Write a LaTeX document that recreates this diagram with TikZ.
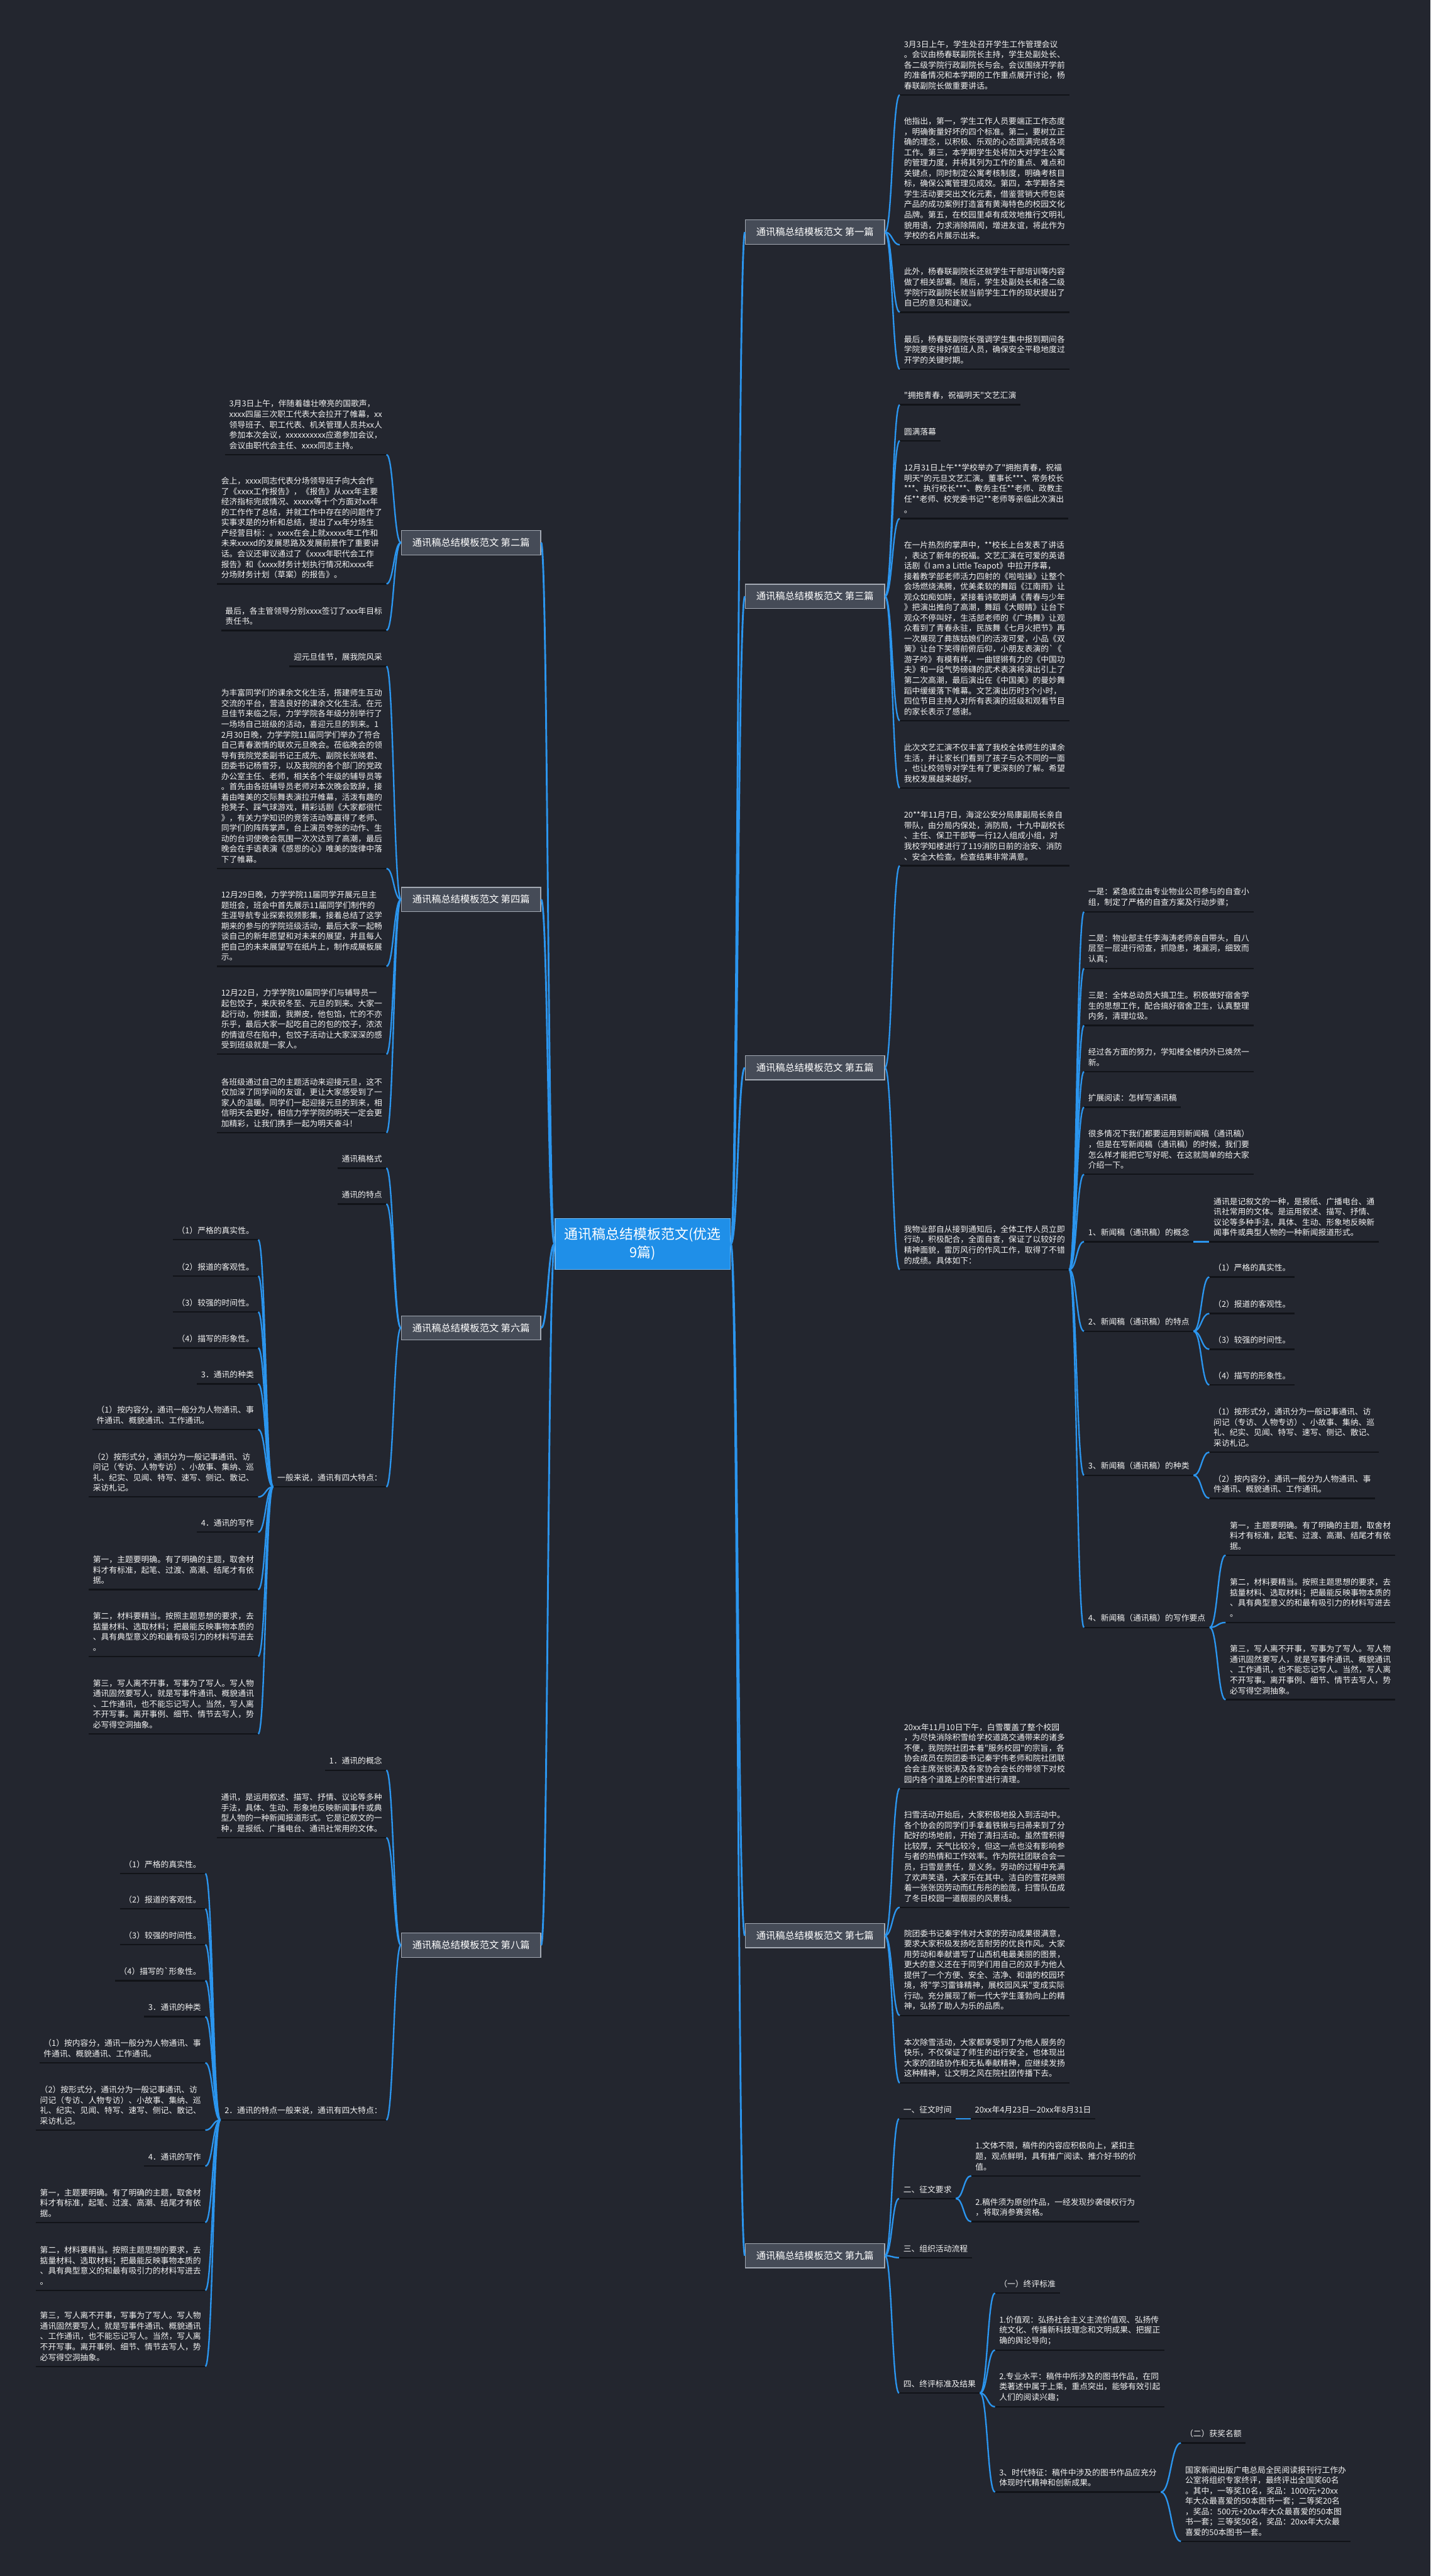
\documentclass[tikz,border=0pt]{standalone}
\usepackage{fontspec}
\newfontfamily\cjk{Noto Sans CJK SC}
\usetikzlibrary{calc}
\definecolor{bgc}{HTML}{23262F}
\definecolor{linkc}{HTML}{2B95EE}
\definecolor{ulc}{HTML}{111318}
\definecolor{txtc}{HTML}{F2F2F2}
\definecolor{bfill}{HTML}{454B57}
\definecolor{bborder}{HTML}{A3A9B3}
\definecolor{cfill}{HTML}{1F8FE8}
\definecolor{cborder}{HTML}{6DB8F3}
\tikzset{
  txt/.style={font=\cjk\fontsize{4.9}{6.33}\selectfont, text=txtc, inner xsep=2.4pt, inner ysep=3.1pt, align=left},
  uline/.style={append after command={(\tikzlastnode.south west) edge[draw=ulc, line width=0.9pt] (\tikzlastnode.south east)}},
  rl/.style={txt, uline, anchor=south west},
  ll/.style={txt, uline, anchor=south east},
  branch/.style={fill=bfill, draw=bborder, line width=0.5pt, text=white, font=\cjk\fontsize{5.85}{7}\selectfont, minimum width=84.8pt, minimum height=14.8pt, inner sep=0pt},
  centre/.style={fill=cfill, draw=cborder, line width=0.6pt, text=white, font=\cjk\fontsize{8.4}{11}\selectfont, align=center, minimum width=106.6pt, minimum height=31pt, inner sep=0pt},
  link/.style={draw=linkc, line width=0.9pt, to path={let \p1=(\tikztostart), \p2=(\tikztotarget), \n1={(\x2-\x1)/2}, \n2={(\x1-\x2)/2} in .. controls +(\n1,0) and +(\n2,0) .. (\tikztotarget)}},
  clink/.style={link, line width=1.1pt}
}
\begin{document}
\begin{tikzpicture}[x=1pt,y=-1pt]
\useasboundingbox (0,0) rectangle (871,1568);
\fill[bgc] (0,0) rectangle (871,1568);

% centre and branches
\node[centre] (c) at (391.3,757.2) {通讯稿总结模板范文(优选\\9篇)};
\node[branch] (b1) at (496.2,141.3) {通讯稿总结模板范文 第一篇};
\node[branch] (b3) at (496.2,363) {通讯稿总结模板范文 第三篇};
\node[branch] (b5) at (496.2,649.9) {通讯稿总结模板范文 第五篇};
\node[branch] (b7) at (496.2,1178.2) {通讯稿总结模板范文 第七篇};
\node[branch] (b9) at (496.2,1373) {通讯稿总结模板范文 第九篇};
\node[branch] (b2) at (286.8,330.3) {通讯稿总结模板范文 第二篇};
\node[branch] (b4) at (286.8,547.5) {通讯稿总结模板范文 第四篇};
\node[branch] (b6) at (286.8,808.3) {通讯稿总结模板范文 第六篇};
\node[branch] (b8) at (286.8,1184) {通讯稿总结模板范文 第八篇};

% ---------- 第一篇 ----------
\node[rl] (a1) at (547.8,57.8) {3月3日上午，学生处召开学生工作管理会议\\。会议由杨春联副院长主持，学生处副处长、\\各二级学院行政副院长与会。会议围绕开学前\\的准备情况和本学期的工作重点展开讨论，杨\\春联副院长做重要讲话。};
\node[rl] (a2) at (547.8,149) {他指出，第一，学生工作人员要端正工作态度\\，明确衡量好坏的四个标准。第二，要树立正\\确的理念，以积极、乐观的心态圆满完成各项\\工作。第三，本学期学生处将加大对学生公寓\\的管理力度，并将其列为工作的重点、难点和\\关键点，同时制定公寓考核制度，明确考核目\\标，确保公寓管理见成效。第四，本学期各类\\学生活动要突出文化元素，借鉴营销大师包装\\产品的成功案例打造富有黄海特色的校园文化\\品牌。第五，在校园里卓有成效地推行文明礼\\貌用语，力求消除隔阂，增进友谊，将此作为\\学校的名片展示出来。};
\node[rl] (a3) at (547.8,190) {此外，杨春联副院长还就学生干部培训等内容\\做了相关部署。随后，学生处副处长和各二级\\学院行政副院长就当前学生工作的现状提出了\\自己的意见和建议。};
\node[rl] (a4) at (547.8,224.7) {最后，杨春联副院长强调学生集中报到期间各\\学院要安排好值班人员，确保安全平稳地度过\\开学的关键时期。};

% ---------- 第三篇 ----------
\node[rl] (d1) at (547.8,246.4) {"拥抱青春，祝福明天"文艺汇演};
\node[rl] (d2) at (547.8,268.3) {圆满落幕};
\node[rl] (d3) at (547.8,315.6) {12月31日上午**学校举办了"拥抱青春，祝福\\明天"的元旦文艺汇演。董事长***、常务校长\\***、执行校长***、教务主任**老师、政教主\\任**老师、校党委书记**老师等亲临此次演出\\。};
\node[rl] (d4) at (547.8,438.6) {在一片热烈的掌声中，**校长上台发表了讲话\\，表达了新年的祝福。文艺汇演在可爱的英语\\话剧《I am a Little Teapot》中拉开序幕，\\接着教学部老师活力四射的《啦啦操》让整个\\会场燃烧沸腾，优美柔软的舞蹈《江南雨》让\\观众如痴如醉，紧接着诗歌朗诵《青春与少年\\》把演出推向了高潮，舞蹈《大眼睛》让台下\\观众不停叫好，生活部老师的《广场舞》让观\\众看到了青春永驻，民族舞《七月火把节》再\\一次展现了彝族姑娘们的活泼可爱，小品《双\\簧》让台下笑得前俯后仰，小朋友表演的`《\\游子吟》有模有样，一曲铿锵有力的《中国功\\夫》和一段气势磅礴的武术表演将演出引上了\\第二次高潮，最后演出在《中国美》的曼妙舞\\蹈中缓缓落下帷幕。文艺演出历时3个小时，\\四位节目主持人对所有表演的班级和观看节目\\的家长表示了感谢。};
\node[rl] (d5) at (547.8,479.6) {此次文艺汇演不仅丰富了我校全体师生的课余\\生活，并让家长们看到了孩子与众不同的一面\\，也让校领导对学生有了更深刻的了解。希望\\我校发展越来越好。};

% ---------- 第五篇 ----------
\node[rl] (e1) at (547.8,527) {20**年11月7日，海淀公安分局康副局长亲自\\带队，由分局内保处，消防局，十九中副校长\\、主任、保卫干部等一行12人组成小组，对\\我校学知楼进行了119消防日前的治安、消防\\、安全大检查。检查结果非常满意。};
\node[rl] (e2) at (547.8,772.8) {我物业部自从接到通知后，全体工作人员立即\\行动，积极配合，全面自查，保证了以较好的\\精神面貌，雷厉风行的作风工作，取得了不错\\的成绩。具体如下：};
\node[rl] (s1) at (660,555) {一是：紧急成立由专业物业公司参与的自查小\\组，制定了严格的自查方案及行动步骤；};
\node[rl] (s2) at (660,589.5) {二是：物业部主任李海涛老师亲自带头，自八\\层至一层进行彻查，抓隐患，堵漏洞，细致而\\认真；};
\node[rl] (s3) at (660,624.2) {三是：全体总动员大搞卫生。积极做好宿舍学\\生的思想工作，配合搞好宿舍卫生，认真整理\\内务，清理垃圾。};
\node[rl] (s4) at (660,652.3) {经过各方面的努力，学知楼全楼内外已焕然一\\新。};
\node[rl] (s5) at (660,674) {扩展阅读：怎样写通讯稿};
\node[rl] (s6) at (660,714.8) {很多情况下我们都要运用到新闻稿（通讯稿）\\，但是在写新闻稿（通讯稿）的时候，我们要\\怎么样才能把它写好呢、在这就简单的给大家\\介绍一下。};
\node[rl] (s7) at (660,755.8) {1、新闻稿（通讯稿）的概念};
\node[rl] (s8) at (660,810.3) {2、新闻稿（通讯稿）的特点};
\node[rl] (s9) at (660,898) {3、新闻稿（通讯稿）的种类};
\node[rl] (s10) at (660,990.6) {4、新闻稿（通讯稿）的写作要点};
\node[rl] (c1) at (736.3,755.8) {通讯是记叙文的一种，是报纸、广播电台、通\\讯社常用的文体。是运用叙述、描写、抒情、\\议论等多种手法，具体、生动、形象地反映新\\闻事件或典型人物的一种新闻报道形式。};
\node[rl] (f1) at (736.3,777.3) {（1）严格的真实性。};
\node[rl] (f2) at (736.3,799.5) {（2）报道的客观性。};
\node[rl] (f3) at (736.3,821.3) {（3）较强的时间性。};
\node[rl] (f4) at (736.3,843) {（4）描写的形象性。};
\node[rl] (g1) at (736.3,883.9) {（1）按形式分，通讯分为一般记事通讯、访\\问记（专访、人物专访）、小故事、集纳、巡\\礼、纪实、见闻、特写、速写、侧记、散记、\\采访札记。};
\node[rl] (g2) at (736.3,912) {（2）按内容分，通讯一般分为人物通讯、事\\件通讯、概貌通讯、工作通讯。};
\node[rl] (h1) at (746.2,946.6) {第一，主题要明确。有了明确的主题，取舍材\\料才有标准，起笔、过渡、高潮、结尾才有依\\据。};
\node[rl] (h2) at (746.2,987.6) {第二，材料要精当。按照主题思想的要求，去\\掂量材料、选取材料；把最能反映事物本质的\\、具有典型意义的和最有吸引力的材料写进去\\。};
\node[rl] (h3) at (746.2,1034.6) {第三，写人离不开事，写事为了写人。写人物\\通讯固然要写人，就是写事件通讯、概貌通讯\\、工作通讯，也不能忘记写人。当然，写人离\\不开写事。离开事例、细节、情节去写人，势\\必写得空洞抽象。};

% ---------- 第七篇 ----------
\node[rl] (p1) at (547.8,1088.6) {20xx年11月10日下午，白雪覆盖了整个校园\\，为尽快消除积雪给学校道路交通带来的诸多\\不便，我院院社团本着"服务校园"的宗旨，各\\协会成员在院团委书记秦宇伟老师和院社团联\\合会主席张锐涛及各家协会会长的带领下对校\\园内各个道路上的积雪进行清理。};
\node[rl] (p2) at (547.8,1161) {扫雪活动开始后，大家积极地投入到活动中。\\各个协会的同学们手拿着铁锹与扫帚来到了分\\配好的场地前，开始了清扫活动。虽然雪积得\\比较厚，天气比较冷，但这一点也没有影响参\\与者的热情和工作效率。作为院社团联合会一\\员，扫雪是责任，是义务。劳动的过程中充满\\了欢声笑语，大家乐在其中。洁白的雪花映照\\着一张张因劳动而红彤彤的脸庞，扫雪队伍成\\了冬日校园一道靓丽的风景线。};
\node[rl] (p3) at (547.8,1226.8) {院团委书记秦宇伟对大家的劳动成果很满意，\\要求大家积极发扬吃苦耐劳的优良作风。大家\\用劳动和奉献谱写了山西机电最美丽的图景，\\更大的意义还在于同学们用自己的双手为他人\\提供了一个方便、安全、洁净、和谐的校园环\\境，将"学习雷锋精神，展校园风采"变成实际\\行动。充分展现了新一代大学生蓬勃向上的精\\神，弘扬了助人为乐的品质。};
\node[rl] (p4) at (547.8,1267.8) {本次除雪活动，大家都享受到了为他人服务的\\快乐，不仅保证了师生的出行安全，也体现出\\大家的团结协作和无私奉献精神，应继续发扬\\这种精神，让文明之风在院社团传播下去。};

% ---------- 第九篇 ----------
\node[rl] (n1) at (547.4,1289.7) {一、征文时间};
\node[rl] (n2) at (547.4,1338.2) {二、征文要求};
\node[rl] (n3) at (547.4,1374.2) {三、组织活动流程};
\node[rl] (n4) at (547.4,1456.6) {四、终评标准及结果};
\node[rl] (n1a) at (591,1289.7) {20xx年4月23日—20xx年8月31日};
\node[rl] (n2a) at (591.3,1324.4) {1.文体不限，稿件的内容应积极向上，紧扣主\\题，观点鲜明，具有推广阅读、推介好书的价\\值。};
\node[rl] (n2b) at (591.3,1352.3) {2.稿件须为原创作品，一经发现抄袭侵权行为\\，将取消参赛资格。};
\node[rl] (n4a) at (605.8,1395.8) {（一）终评标准};
\node[rl] (n4b) at (605.8,1430.5) {1.价值观：弘扬社会主义主流价值观、弘扬传\\统文化、传播新科技理念和文明成果、把握正\\确的舆论导向；};
\node[rl] (n4c) at (605.8,1465) {2.专业水平：稿件中所涉及的图书作品，在同\\类著述中属于上乘，重点突出，能够有效引起\\人们的阅读兴趣；};
\node[rl] (n4d) at (605.8,1516.9) {3、时代特征：稿件中涉及的图书作品应充分\\体现时代精神和创新成果。};
\node[rl] (n4e) at (719,1487) {（二）获奖名额};
\node[rl] (n4f) at (719,1546.9) {国家新闻出版广电总局全民阅读报刊行工作办\\公室将组织专家终评，最终评出全国奖60名\\。其中，一等奖10名，奖品：1000元+20xx\\年大众最喜爱的50本图书一套；二等奖20名\\，奖品：500元+20xx年大众最喜爱的50本图\\书一套；三等奖50名，奖品：20xx年大众最\\喜爱的50本图书一套。};

% ---------- 第二篇 ----------
\node[ll] (q1) at (235.3,276.7) {3月3日上午，伴随着雄壮嘹亮的国歌声，\\xxxx四届三次职工代表大会拉开了帷幕，xx\\领导班子、职工代表、机关管理人员共xx人\\参加本次会议，xxxxxxxxxx应邀参加会议，\\会议由职代会主任、xxxx同志主持。};
\node[ll] (q2) at (235.3,355.4) {会上，xxxx同志代表分场领导班子向大会作\\了《xxxx工作报告》，《报告》从xxx年主要\\经济指标完成情况、xxxxx等十个方面对xx年\\的工作作了总结，并就工作中存在的问题作了\\实事求是的分析和总结，提出了xx年分场生\\产经营目标：。xxxx在会上就xxxxx年工作和\\未来xxxxd的发展思路及发展前景作了重要讲\\话。会议还审议通过了《xxxx年职代会工作\\报告》和《xxxx财务计划执行情况和xxxx年\\分场财务计划（草案）的报告》。};
\node[ll] (q3) at (235.3,383.7) {最后，各主管领导分别xxxx签订了xxx年目标\\责任书。};

% ---------- 第四篇 ----------
\node[ll] (r1) at (235.3,405.6) {迎元旦佳节，展我院风采};
\node[ll] (r2) at (235.3,528.7) {为丰富同学们的课余文化生活，搭建师生互动\\交流的平台，营造良好的课余文化生活。在元\\旦佳节来临之际，力学学院各年级分别举行了\\一场场自己班级的活动，喜迎元旦的到来。1\\2月30日晚，力学学院11届同学们举办了符合\\自己青春激情的联欢元旦晚会。莅临晚会的领\\导有我院党委副书记王成先、副院长张晓君、\\团委书记杨雪芬，以及我院的各个部门的党政\\办公室主任、老师，相关各个年级的辅导员等\\。首先由各班辅导员老师对本次晚会致辞，接\\着由唯美的交际舞表演拉开帷幕，活泼有趣的\\抢凳子、踩气球游戏，精彩话剧《大家都很忙\\》，有关力学知识的竞答活动等赢得了老师、\\同学们的阵阵掌声，台上演员夸张的动作、生\\动的台词使晚会氛围一次次达到了高潮，最后\\晚会在手语表演《感恩的心》唯美的旋律中落\\下了帷幕。};
\node[ll] (r3) at (235.3,588.2) {12月29日晚，力学学院11届同学开展元旦主\\题班会，班会中首先展示11届同学们制作的\\生涯导航专业探索视频影集，接着总结了这学\\期来的参与的学院班级活动，最后大家一起畅\\谈自己的新年愿望和对未来的展望，并且每人\\把自己的未来展望写在纸片上，制作成展板展\\示。};
\node[ll] (r4) at (235.3,641.7) {12月22日，力学学院10届同学们与辅导员一\\起包饺子，来庆祝冬至、元旦的到来。大家一\\起行动，你揉面，我擀皮，他包馅，忙的不亦\\乐乎，最后大家一起吃自己的包的饺子，浓浓\\的情谊尽在陷中，包饺子活动让大家深深的感\\受到班级就是一家人。};
\node[ll] (r5) at (235.3,689.5) {各班级通过自己的主题活动来迎接元旦，这不\\仅加深了同学间的友谊，更让大家感受到了一\\家人的温暖。同学们一起迎接元旦的到来，相\\信明天会更好，相信力学学院的明天一定会更\\加精彩，让我们携手一起为明天奋斗!};

% ---------- 第六篇 ----------
\node[ll] (t1) at (235.2,711) {通讯稿格式};
\node[ll] (t2) at (235.2,732.9) {通讯的特点};
\node[ll] (t3) at (235.2,905) {一般来说，通讯有四大特点：};
\node[ll] (u1) at (157.2,754.6) {（1）严格的真实性。};
\node[ll] (u2) at (157.2,776.7) {（2）报道的客观性。};
\node[ll] (u3) at (157.2,798.6) {（3）较强的时间性。};
\node[ll] (u4) at (157.2,820.5) {（4）描写的形象性。};
\node[ll] (u5) at (157.2,842.4) {3．通讯的种类};
\node[ll] (u6) at (157.2,870.1) {（1）按内容分，通讯一般分为人物通讯、事\\件通讯、概貌通讯、工作通讯。};
\node[ll] (u7) at (157.2,911.2) {（2）按形式分，通讯分为一般记事通讯、访\\问记（专访、人物专访）、小故事、集纳、巡\\礼、纪实、见闻、特写、速写、侧记、散记、\\采访札记。};
\node[ll] (u8) at (157.2,932.6) {4．通讯的写作};
\node[ll] (u9) at (157.2,967.6) {第一，主题要明确。有了明确的主题，取舍材\\料才有标准，起笔、过渡、高潮、结尾才有依\\据。};
\node[ll] (u10) at (157.2,1008.2) {第二，材料要精当。按照主题思想的要求，去\\掂量材料、选取材料；把最能反映事物本质的\\、具有典型意义的和最有吸引力的材料写进去\\。};
\node[ll] (u11) at (157.2,1055.4) {第三，写人离不开事，写事为了写人。写人物\\通讯固然要写人，就是写事件通讯、概貌通讯\\、工作通讯，也不能忘记写人。当然，写人离\\不开写事。离开事例、细节、情节去写人，势\\必写得空洞抽象。};

% ---------- 第八篇 ----------
\node[ll] (v1) at (235.2,1077.5) {1．通讯的概念};
\node[ll] (v2) at (235.2,1118.6) {通讯，是运用叙述、描写、抒情、议论等多种\\手法，具体、生动、形象地反映新闻事件或典\\型人物的一种新闻报道形式。它是记叙文的一\\种，是报纸、广播电台、通讯社常用的文体。};
\node[ll] (v3) at (235.2,1290.4) {2．通讯的特点一般来说，通讯有四大特点：};
\node[ll] (w1) at (125,1140.4) {（1）严格的真实性。};
\node[ll] (w2) at (125,1161.9) {（2）报道的客观性。};
\node[ll] (w3) at (125,1183.7) {（3）较强的时间性。};
\node[ll] (w4) at (125,1205.6) {（4）描写的`形象性。};
\node[ll] (w5) at (125,1227.5) {3．通讯的种类};
\node[ll] (w6) at (125,1255.6) {（1）按内容分，通讯一般分为人物通讯、事\\件通讯、概貌通讯、工作通讯。};
\node[ll] (w7) at (125,1296.6) {（2）按形式分，通讯分为一般记事通讯、访\\问记（专访、人物专访）、小故事、集纳、巡\\礼、纪实、见闻、特写、速写、侧记、散记、\\采访札记。};
\node[ll] (w8) at (125,1318.5) {4．通讯的写作};
\node[ll] (w9) at (125,1352.8) {第一，主题要明确。有了明确的主题，取舍材\\料才有标准，起笔、过渡、高潮、结尾才有依\\据。};
\node[ll] (w10) at (125,1394.1) {第二，材料要精当。按照主题思想的要求，去\\掂量材料、选取材料；把最能反映事物本质的\\、具有典型意义的和最有吸引力的材料写进去\\。};
\node[ll] (w11) at (125,1440.4) {第三，写人离不开事，写事为了写人。写人物\\通讯固然要写人，就是写事件通讯、概貌通讯\\、工作通讯，也不能忘记写人。当然，写人离\\不开写事。离开事例、细节、情节去写人，势\\必写得空洞抽象。};

% ---------- connectors ----------
\foreach \k in {b1,b3,b5,b7,b9} \draw[clink] (c.east) to (\k.west);
\foreach \k in {b2,b4,b6,b8} \draw[clink] (c.west) to (\k.east);
\foreach \k in {a1,a2,a3,a4} \draw[link] (b1.east) to (\k.south west);
\foreach \k in {d1,d2,d3,d4,d5} \draw[link] (b3.east) to (\k.south west);
\foreach \k in {e1,e2} \draw[link] (b5.east) to (\k.south west);
\foreach \k in {s1,s2,s3,s4,s5,s6,s7,s8,s9,s10} \draw[link] (e2.south east) to (\k.south west);
\draw[link] (s7.south east) to (c1.south west);
\foreach \k in {f1,f2,f3,f4} \draw[link] (s8.south east) to (\k.south west);
\foreach \k in {g1,g2} \draw[link] (s9.south east) to (\k.south west);
\foreach \k in {h1,h2,h3} \draw[link] (s10.south east) to (\k.south west);
\foreach \k in {p1,p2,p3,p4} \draw[link] (b7.east) to (\k.south west);
\foreach \k in {n1,n2,n3,n4} \draw[link] (b9.east) to (\k.south west);
\draw[link] (n1.south east) to (n1a.south west);
\foreach \k in {n2a,n2b} \draw[link] (n2.south east) to (\k.south west);
\foreach \k in {n4a,n4b,n4c,n4d} \draw[link] (n4.south east) to (\k.south west);
\foreach \k in {n4e,n4f} \draw[link] (n4d.south east) to (\k.south west);
\foreach \k in {q1,q2,q3} \draw[link] (b2.west) to (\k.south east);
\foreach \k in {r1,r2,r3,r4,r5} \draw[link] (b4.west) to (\k.south east);
\foreach \k in {t1,t2,t3} \draw[link] (b6.west) to (\k.south east);
\foreach \k in {u1,u2,u3,u4,u5,u6,u7,u8,u9,u10,u11} \draw[link] (t3.south west) to (\k.south east);
\foreach \k in {v1,v2,v3} \draw[link] (b8.west) to (\k.south east);
\foreach \k in {w1,w2,w3,w4,w5,w6,w7,w8,w9,w10,w11} \draw[link] (v3.south west) to (\k.south east);
\end{tikzpicture}
\end{document}
